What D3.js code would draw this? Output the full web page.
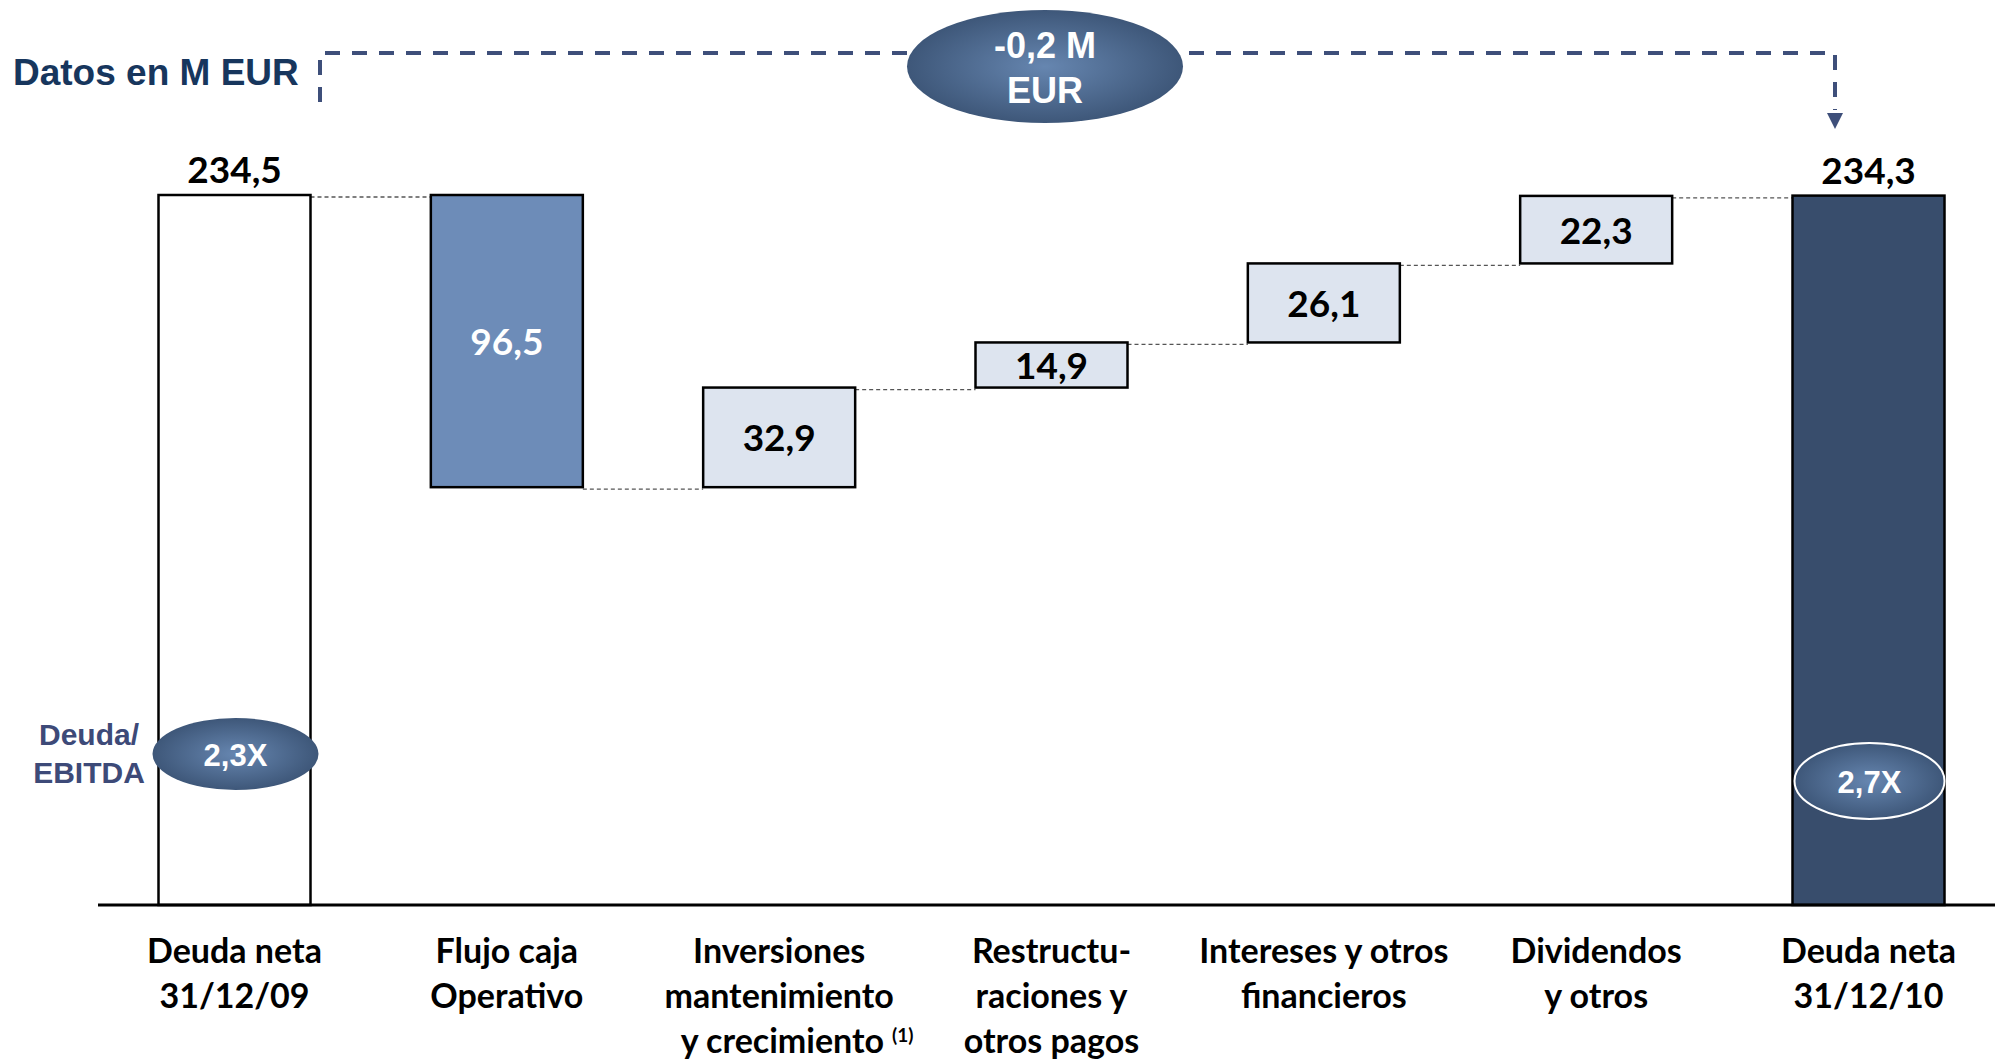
<!DOCTYPE html>
<head>
  <meta charset="utf-8">
  <script src="https://d3js.org/d3.v7.min.js"></script>
  <style>
    body { margin:0; background:#fff; }

    .bar {
      stroke: #000;
      stroke-width: 2.5;
    }

    .connector {
      stroke: #555;
      stroke-width: 1.3;
      stroke-dasharray: 4,3;
    }

    .value-label, .cat-label {
      font-family: 'Lato', sans-serif;
      font-weight: 700;
      text-anchor: middle;
    }

    .value-label { font-size: 37px; }
    .cat-label { font-size: 34px; fill: #000; }

    .arial {
      font-family: 'Liberation Sans', Arial, sans-serif;
      font-weight: 700;
    }

    .bracket {
      fill: none;
      stroke: #3e4f7a;
      stroke-width: 4;
      stroke-dasharray: 15,12;
    }
  </style>
</head>

<body>
  <script>
    // data
    var categories = [
      ["Deuda neta", "31/12/09"],
      ["Flujo caja", "Operativo"],
      ["Inversiones", "mantenimiento", "y crecimiento"],
      ["Restructu-", "raciones y", "otros pagos"],
      ["Intereses y otros", "financieros"],
      ["Dividendos", "y otros"],
      ["Deuda neta", "31/12/10"]
    ];
    var values = [234.5, -96.5, 32.9, 14.9, 26.1, 22.3, 234.3];
    var kinds = ["start", "decrease", "increase", "increase", "increase", "increase", "end"];
    var ratioLabels = ["2,3X", "2,7X"];
    var ratioTitle = ["Deuda/", "EBITDA"];
    var changeLabel = ["-0,2 M", "EUR"];
    var unitTitle = "Datos en M EUR";

    var width = 1995, height = 1059;
    var barWidth = 152;

    var svg = d3.select("body").append("svg")
        .attr("width", width)
        .attr("height", height);

    var defs = svg.append("defs");
    var grad = defs.append("radialGradient").attr("id", "oval");
    grad.append("stop").attr("offset", "0%").attr("stop-color", "#6686b0");
    grad.append("stop").attr("offset", "100%").attr("stop-color", "#3e5779");

    var colour = {start: "#ffffff", decrease: "#6d8cb8", increase: "#dde4ef", end: "#384d6c"};

    var x = d3.scalePoint()
      .domain(d3.range(values.length))
      .range([234.5, 1868.5]);

    var y = d3.scaleLinear()
      .domain([0, values[0]])
      .range([905, 195]);

    // running totals for the waterfall
    var bars = [];
    var level = 0;
    values.forEach(function(v, i) {
      var k = kinds[i];
      var lo, hi;
      if (k == "start" || k == "end") {
        lo = 0; hi = v; level = v;
      } else {
        var next = level + v;
        lo = Math.min(level, next); hi = Math.max(level, next);
        level = next;
      }
      bars.push({i: i, kind: k, value: v, lo: lo, hi: hi, end: level});
    });

    var fmt = function(v) { return d3.format(".1f")(Math.abs(v)).replace(".", ","); };

    // connectors
    svg.append("g").selectAll("line")
      .data(bars.slice(0, -1))
      .enter().append("line")
        .attr("class", "connector")
        .attr("x1", d => x(d.i) + barWidth / 2)
        .attr("x2", d => x(d.i + 1) - barWidth / 2)
        .attr("y1", d => y(d.end) + 2)
        .attr("y2", d => y(d.end) + 2);

    // bars
    svg.append("g").selectAll("rect")
      .data(bars)
      .enter().append("rect")
        .attr("class", "bar")
        .attr("x", d => x(d.i) - barWidth / 2)
        .attr("y", d => y(d.hi))
        .attr("width", barWidth)
        .attr("height", d => y(d.lo) - y(d.hi))
        .style("fill", d => colour[d.kind]);

    // baseline
    svg.append("line")
      .attr("x1", 98).attr("x2", width)
      .attr("y1", y(0)).attr("y2", y(0))
      .style("stroke", "#000").style("stroke-width", 3);

    // value labels
    svg.append("g").selectAll("text")
      .data(bars)
      .enter().append("text")
        .attr("class", "value-label")
        .attr("x", d => x(d.i))
        .attr("y", function(d) {
          if (d.kind == "start" || d.kind == "end") return y(d.hi) - 12;
          return (y(d.hi) + y(d.lo)) / 2 + 14;
        })
        .style("fill", d => d.kind == "decrease" ? "#fff" : "#000")
        .text(d => fmt(d.value));

    // category labels
    var cats = svg.append("g").selectAll("text")
      .data(categories)
      .enter().append("text")
        .attr("class", "cat-label")
        .attr("x", (d, i) => x(i))
        .attr("y", 963);

    cats.each(function(lines, i) {
      var t = d3.select(this);
      lines.forEach(function(l, j) {
        var ts = t.append("tspan")
          .attr("x", x(i) + (i == 2 && j == 2 ? 18 : 0))
          .attr("y", 963 + j * 45)
          .text(l);
        if (i == 2 && j == 2) {
          t.append("tspan").attr("dx", 8).attr("dy", -11)
            .style("font-size", "19px").text("(1)");
        }
      });
    });

    // title
    svg.append("text")
      .attr("class", "arial")
      .attr("x", 13).attr("y", 85)
      .style("font-size", "37px")
      .style("fill", "#17365d")
      .text(unitTitle);

    // dashed bracket with arrow
    svg.append("path")
      .attr("class", "bracket")
      .attr("d", "M320,102V53H1835V110");
    svg.append("path")
      .attr("d", "M1827,113L1843,113L1835,129Z")
      .style("fill", "#3e4f7a");

    // change oval
    svg.append("ellipse")
      .attr("cx", 1045).attr("cy", 66.5)
      .attr("rx", 138).attr("ry", 56.5)
      .style("fill", "url(#oval)");
    svg.append("g").selectAll("text")
      .data(changeLabel)
      .enter().append("text")
        .attr("class", "arial")
        .attr("x", 1045)
        .attr("y", (d, i) => 58 + i * 45)
        .attr("text-anchor", "middle")
        .style("font-size", "36px")
        .style("fill", "#fff")
        .text(d => d);

    // ratio ovals
    var ratioPos = [{i: 0, cy: 754, rx: 83, ry: 36, stroke: "none"},
                    {i: values.length - 1, cy: 781, rx: 75, ry: 38, stroke: "#fff"}];
    ratioPos.forEach(function(p, k) {
      svg.append("ellipse")
        .attr("cx", x(p.i) + 1).attr("cy", p.cy)
        .attr("rx", p.rx).attr("ry", p.ry)
        .style("fill", "url(#oval)")
        .style("stroke", p.stroke)
        .style("stroke-width", 2);
      svg.append("text")
        .attr("class", "arial")
        .attr("x", x(p.i) + 1)
        .attr("y", p.cy + 12)
        .attr("text-anchor", "middle")
        .style("font-size", "31px")
        .style("fill", "#fff")
        .text(ratioLabels[k]);
    });

    svg.append("g").selectAll("text")
      .data(ratioTitle)
      .enter().append("text")
        .attr("class", "arial")
        .attr("x", 89)
        .attr("y", (d, i) => 745 + i * 38)
        .attr("text-anchor", "middle")
        .style("font-size", "30px")
        .style("fill", "#3d4a78")
        .text(d => d);
  </script>
</body>
